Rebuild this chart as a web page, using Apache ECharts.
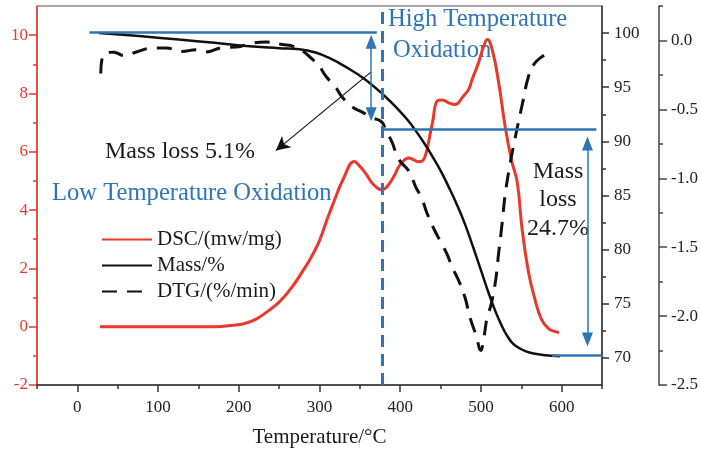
<!DOCTYPE html>
<html>
<head>
<meta charset="utf-8">
<script src="https://cdn.jsdelivr.net/npm/echarts@6/dist/echarts.min.js"></script>
<style>
html,body{margin:0;padding:0;background:#fff;}
#main{width:701px;height:453px;}
</style>
</head>
<body>
<div id="main"></div>
<script>
// DSC (red) - temperature / value
var dscTemp = [28, 170, 190, 210, 234, 260, 283, 291, 300, 308, 318, 330, 343, 350, 357, 367, 378, 385, 393, 400, 411, 417, 422, 427, 432, 437, 440, 446, 452, 460, 468, 478, 485, 489, 497, 502, 508, 514, 522, 530, 538, 545, 551, 559, 567, 575, 584, 590, 597];
var dscVal = [0, 0, 0.04, 0.13, 0.49, 1.15, 2.07, 2.45, 2.95, 3.57, 4.3, 5.1, 5.67, 5.5, 5.27, 4.87, 4.70, 4.85, 5.2, 5.56, 5.79, 5.72, 5.66, 5.68, 5.95, 6.6, 7.0, 7.75, 7.78, 7.68, 7.62, 7.9, 8.15, 8.47, 9.05, 9.5, 9.85, 9.5, 8.37, 6.87, 5.7, 4.95, 3.35, 1.86, 0.93, 0.25, -0.07, -0.15, -0.2];
// Mass (black solid)
var massTemp = [27, 80, 126, 170, 209, 250, 275, 295, 312, 332, 357, 382, 398, 410, 420, 430, 440, 450, 460, 470, 480, 490, 500, 510, 518, 525, 532, 540, 550, 560, 575, 588, 598];
var massVal = [100.0, 99.7, 99.4, 99.1, 98.8, 98.6, 98.5, 98.2, 97.7, 96.9, 95.7, 94.1, 92.9, 91.9, 90.9, 89.8, 88.6, 87.3, 85.8, 84.2, 82.4, 80.3, 78.1, 75.9, 74.3, 73.1, 72.1, 71.3, 70.8, 70.5, 70.3, 70.2, 70.15];
// DTG (black dashed)
var dtgTemp = [29, 31, 36, 45, 58, 74, 93, 110, 129, 147, 157, 182, 197, 216, 234, 254, 266, 280, 290, 299, 308, 320, 328, 340, 353, 365, 377, 382, 390, 398, 411, 419, 427, 433, 442, 450, 458, 464, 473, 480, 487, 494, 500, 503, 508, 512, 518, 522, 526, 530, 536, 543, 551, 559, 566, 574, 586];
var dtgVal = [-0.24, -0.12, -0.09, -0.085, -0.11, -0.082, -0.055, -0.055, -0.08, -0.068, -0.085, -0.05, -0.048, -0.02, -0.012, -0.03, -0.04, -0.08, -0.13, -0.18, -0.26, -0.34, -0.41, -0.48, -0.52, -0.56, -0.59, -0.65, -0.74, -0.86, -0.95, -1.06, -1.15, -1.25, -1.37, -1.46, -1.55, -1.64, -1.75, -1.86, -2.02, -2.14, -2.25, -2.18, -2.0, -1.93, -1.75, -1.54, -1.34, -1.12, -0.9, -0.69, -0.47, -0.26, -0.17, -0.125, -0.08];

// tick values
var xTicks = [0, 100, 200, 300, 400, 500, 600];
var xMinor = [-50, 50, 150, 250, 350, 450, 550, 650];
var dscTicks = [-2, 0, 2, 4, 6, 8, 10];
var dscMinor = [-1, 1, 3, 5, 7, 9];
var massTicks = [70, 75, 80, 85, 90, 95, 100];
var massMinor = [72.5, 77.5, 82.5, 87.5, 92.5, 97.5];
var dtgTicks = [-2.5, -2, -1.5, -1, -0.5, 0];
var dtgMinor = [-2.25, -1.75, -1.25, -0.75, -0.25, 0.25];

var FONT = '"Liberation Serif", "Times New Roman", serif';
var RED = '#e8392d';
var BLUE = '#2e75b6';
var AX = '#333';

function zip(a, b) {
	var out = [];
	for (var i = 0; i < a.length; i++) out.push([a[i], b[i]]);
	return out;
}

function minorAxis(min, max, pos, ticks, offset, color) {
	return {
		type: 'value', min: min, max: max, position: pos, offset: offset || 0,
		axisLine: {show: false, onZero: false},
		axisTick: {show: true, customValues: ticks, length: 4, lineStyle: {color: color, width: 1.5}},
		axisLabel: {show: false},
		splitLine: {show: false}
	};
}

var myChart = echarts.init(document.getElementById('main'));

var option = {
	animation: false,
	backgroundColor: '#fff',
	grid: {left: 37, right: 99, top: 6, bottom: 67, show: true, borderColor: '#555', borderWidth: 1},
	legend: {
		left: 101, top: 229, orient: 'vertical', padding: 0,
		itemWidth: 50, itemHeight: 14, itemGap: 5,
		itemStyle: {opacity: 0},
		textStyle: {fontFamily: FONT, fontSize: 21, color: '#1a1a1a'},
		data: ['DSC/(mw/mg)', 'Mass/%', 'DTG/(%/min)']
	},
	xAxis: [{
		type: 'value', min: -50, max: 650, position: 'bottom',
		axisLine: {onZero: false, lineStyle: {color: AX, width: 1.5}},
		axisTick: {customValues: xTicks, length: 7, lineStyle: {color: AX, width: 1.5}},
		axisLabel: {customValues: xTicks, fontFamily: FONT, fontSize: 17, color: '#222', margin: 14},
		splitLine: {show: false},
		name: 'Temperature/°C', nameLocation: 'middle', nameGap: 42,
		nameTextStyle: {fontFamily: FONT, fontSize: 21, color: '#1a1a1a'}
	}, minorAxis(-50, 650, 'bottom', xMinor, 0, AX)],
	yAxis: [{
		type: 'value', min: -2, max: 11, position: 'left',
		axisLine: {show: true, onZero: false, lineStyle: {color: RED, width: 1.5}},
		axisTick: {show: true, customValues: dscTicks, length: 8, lineStyle: {color: RED, width: 1.5}},
		axisLabel: {customValues: dscTicks, fontFamily: FONT, fontSize: 17, color: RED, margin: 9},
		splitLine: {show: false}
	}, minorAxis(-2, 11, 'left', dscMinor, 0, RED), {
		type: 'value', min: 67.5, max: 102.5, position: 'right',
		axisLine: {show: true, onZero: false, lineStyle: {color: AX, width: 1.5}},
		axisTick: {show: true, customValues: massTicks, length: 7, lineStyle: {color: AX, width: 1.5}},
		axisLabel: {customValues: massTicks, fontFamily: FONT, fontSize: 17, color: '#222', margin: 12},
		splitLine: {show: false}
	}, minorAxis(67.5, 102.5, 'right', massMinor, 0, AX), {
		type: 'value', min: -2.5, max: 0.25, position: 'right', offset: 57,
		axisLine: {show: true, onZero: false, lineStyle: {color: '#444', width: 1.5}},
		axisTick: {show: true, customValues: dtgTicks, length: 8, lineStyle: {color: '#444', width: 1.5}},
		axisLabel: {customValues: dtgTicks, fontFamily: FONT, fontSize: 17, color: '#222', margin: 12,
			formatter: function (v) { return v.toFixed(1); }},
		splitLine: {show: false}
	}, minorAxis(-2.5, 0.25, 'right', dtgMinor, 57, '#444')],
	series: [{
		name: 'DSC/(mw/mg)', type: 'line', xAxisIndex: 0, yAxisIndex: 0,
		data: zip(dscTemp, dscVal), showSymbol: false, symbol: 'none', smooth: 0.45,
		lineStyle: {color: RED, width: 3}, itemStyle: {color: RED},
		markLine: {
			silent: true, animation: false, label: {show: false},
			lineStyle: {color: '#111', width: 1.2, type: 'solid'},
			data: [[{coord: [364, 8.74], symbol: 'none'}, {coord: [246, 6.04], symbol: 'arrow', symbolSize: [11, 14]}]]
		}
	}, {
		name: 'Mass/%', type: 'line', xAxisIndex: 0, yAxisIndex: 2,
		data: zip(massTemp, massVal), showSymbol: false, symbol: 'none', smooth: 0.45,
		lineStyle: {color: '#111', width: 2.5}, itemStyle: {color: '#111'},
		markLine: {
			silent: true, animation: false, label: {show: false}, symbol: ['none', 'none'],
			lineStyle: {color: BLUE, width: 2.5, type: 'solid'},
			data: [
				[{coord: [15, 100.1]}, {coord: [371, 100.1]}],
				[{coord: [378, 91.1]}, {coord: [643, 91.1]}],
				[{coord: [588, 70.25]}, {coord: [650, 70.25]}],
				[{coord: [364, 99.2], symbol: 'triangle', symbolSize: [11, 14], lineStyle: {width: 1.5}},
				 {coord: [364, 92.5], symbol: 'triangle', symbolSize: [11, 14]}],
				[{coord: [632, 89.8], symbol: 'triangle', symbolSize: [11, 14], lineStyle: {width: 1.5}},
				 {coord: [632, 71.7], symbol: 'triangle', symbolSize: [11, 14]}],
				{xAxis: 378, symbol: 'none', lineStyle: {width: 3, type: [12, 7]}}
			]
		}
	}, {
		name: 'DTG/(%/min)', type: 'line', xAxisIndex: 0, yAxisIndex: 4,
		data: zip(dtgTemp, dtgVal), showSymbol: false, symbol: 'none', smooth: 0.45,
		lineStyle: {color: '#111', width: 3, type: [15, 10]}, itemStyle: {color: '#111'}
	}],
	graphic: [
		{type: 'text', x: 105, y: 152, style: {text: 'Mass loss 5.1%', font: '24px ' + FONT, fill: '#1a1a1a', textVerticalAlign: 'middle'}},
		{type: 'text', x: 52, y: 194, style: {text: 'Low Temperature Oxidation', font: '24.6px ' + FONT, fill: BLUE, textVerticalAlign: 'middle'}},
		{type: 'text', x: 388, y: 20, style: {text: 'High Temperature', font: '24.6px ' + FONT, fill: BLUE, textVerticalAlign: 'middle'}},
		{type: 'text', x: 393, y: 51, style: {text: 'Oxidation', font: '24.6px ' + FONT, fill: BLUE, textVerticalAlign: 'middle'}},
		{type: 'text', x: 558, y: 172, style: {text: 'Mass', font: '24px ' + FONT, fill: '#1a1a1a', textAlign: 'center', textVerticalAlign: 'middle'}},
		{type: 'text', x: 558, y: 200, style: {text: 'loss', font: '24px ' + FONT, fill: '#1a1a1a', textAlign: 'center', textVerticalAlign: 'middle'}},
		{type: 'text', x: 558, y: 229, style: {text: '24.7%', font: '24px ' + FONT, fill: '#1a1a1a', textAlign: 'center', textVerticalAlign: 'middle'}}
	]
};
myChart.setOption(option);
</script>
</body>
</html>
